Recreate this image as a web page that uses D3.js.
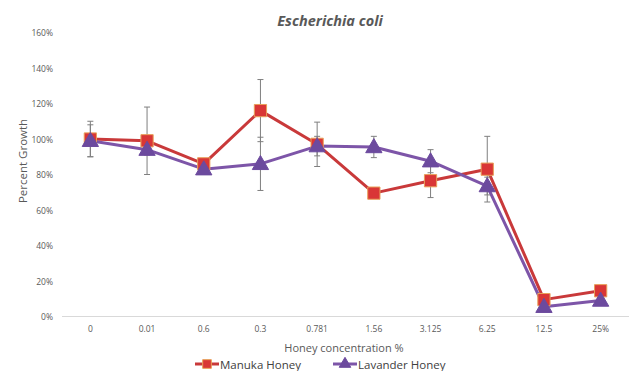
<!DOCTYPE html>
<html>
<head>
<meta charset="utf-8">
<script src="https://cdn.jsdelivr.net/npm/d3@7"></script>
<style>
  body { margin: 0; background: #fff; }
  text { font-family: "Open Sans", sans-serif; }
</style>
</head>
<body>
<div id="chart"></div>
<script>
// data
const categories = ["0", "0.01", "0.6", "0.3", "0.781", "1.56", "3.125", "6.25", "12.5", "25%"];
const manuka = [100, 99, 86, 116, 97, 69.5, 76.5, 83, 9.5, 14.5];
const manukaErr = [10, 19, 2, 17.5, 12.5, 2, 9.5, 18.5, 1, 1];
const lavander = [99, 94, 83, 86, 96, 95.5, 87.5, 73.5, 5.5, 9];
const lavanderErr = [9, 3, 2, 15, 5.5, 6, 6.5, 5, 1, 1];
const yTicks = [0, 20, 40, 60, 80, 100, 120, 140, 160];

const width = 633, height = 371;
const svg = d3.select("#chart").append("svg")
  .attr("width", width).attr("height", height);

const x = d3.scaleBand().domain(categories).range([62, 629]);
const y = d3.scaleLinear().domain([0, 160]).range([316.5, 32.5]);
const cx = d => x(d) + x.bandwidth() / 2;

// title
svg.append("text")
  .attr("x", 330).attr("y", 26)
  .attr("text-anchor", "middle")
  .attr("font-size", 14.5).attr("font-weight", "bold").attr("font-style", "italic")
  .attr("fill", "#595959")
  .text("Escherichia coli");

// y axis labels
svg.selectAll(".ytick").data(yTicks).enter().append("text")
  .attr("x", 53).attr("y", d => y(d) + 3.5)
  .attr("text-anchor", "end").attr("font-size", 8.5).attr("fill", "#595959")
  .text(d => d + "%");

// axis line
svg.append("line")
  .attr("x1", 62).attr("x2", 629)
  .attr("y1", y(0)).attr("y2", y(0))
  .attr("stroke", "#d9d9d9").attr("stroke-width", 1);

// x labels
svg.selectAll(".xtick").data(categories).enter().append("text")
  .attr("x", d => cx(d)).attr("y", 332)
  .attr("text-anchor", "middle").attr("font-size", 8.5).attr("fill", "#595959")
  .text(d => d);

// axis titles
svg.append("text")
  .attr("transform", "translate(27,161) rotate(-90)")
  .attr("text-anchor", "middle").attr("font-size", 11.5).attr("fill", "#595959")
  .text("Percent Growth");

svg.append("text")
  .attr("x", 344).attr("y", 352)
  .attr("text-anchor", "middle").attr("font-size", 11).attr("fill", "#595959")
  .text("Honey concentration %");

const series = [
  { name: "Manuka Honey", values: manuka, err: manukaErr, line: "#c9393a", fill: "#d93636", stroke: "#e8a05a", shape: d3.symbolSquare, size: 150 },
  { name: "Lavander Honey", values: lavander, err: lavanderErr, line: "#7d55a8", fill: "#6c4a9e", stroke: "#6c4a9e", shape: d3.symbolTriangle, size: 115 }
];

const line = d3.line().x((d, i) => cx(categories[i])).y(d => y(d));

series.forEach(s => {
  svg.append("path")
    .attr("d", line(s.values))
    .attr("fill", "none").attr("stroke", s.line).attr("stroke-width", 3)
    .attr("stroke-linejoin", "round");
});

// error bars
series.forEach(s => {
  const g = svg.append("g").attr("stroke", "#7f7f7f").attr("stroke-width", 1);
  s.values.forEach((v, i) => {
    const px = cx(categories[i]);
    const y1 = y(v + s.err[i]), y2 = y(v - s.err[i]);
    g.append("line").attr("x1", px).attr("x2", px).attr("y1", y1).attr("y2", y2);
    g.append("line").attr("x1", px - 3).attr("x2", px + 3).attr("y1", y1).attr("y2", y1);
    g.append("line").attr("x1", px - 3).attr("x2", px + 3).attr("y1", y2).attr("y2", y2);
  });
});

// markers
series.forEach(s => {
  svg.selectAll(null).data(s.values).enter().append("path")
    .attr("d", d3.symbol().type(s.shape).size(s.size))
    .attr("transform", (d, i) => `translate(${cx(categories[i])},${y(d) + (s.shape === d3.symbolTriangle ? 1 : 0)})`)
    .attr("fill", s.fill).attr("stroke", s.stroke).attr("stroke-width", 1);
});

// legend
const legendX = [195, 333];
series.forEach((s, i) => {
  const g = svg.append("g").attr("transform", `translate(${legendX[i]},364)`);
  g.append("line").attr("x1", 0).attr("x2", 24).attr("y1", 0).attr("y2", 0)
    .attr("stroke", s.line).attr("stroke-width", 3);
  g.append("path").attr("d", d3.symbol().type(s.shape).size(s.size * 0.5))
    .attr("transform", "translate(12,0)")
    .attr("fill", s.fill).attr("stroke", s.stroke).attr("stroke-width", 1);
  g.append("text").attr("x", 25).attr("y", 4.5)
    .attr("font-size", 11.5).attr("fill", "#404040")
    .text(s.name);
});
</script>
</body>
</html>
